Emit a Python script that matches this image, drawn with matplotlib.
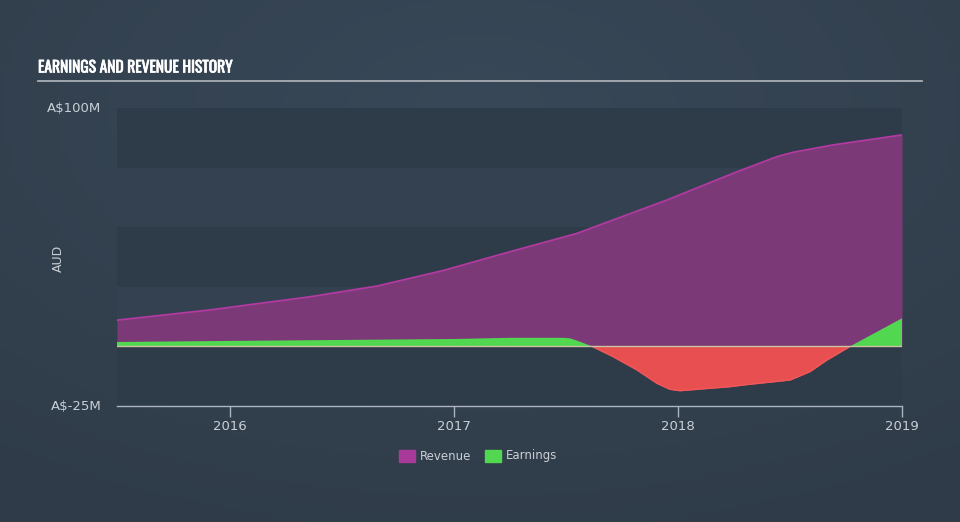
import matplotlib
matplotlib.use("Agg")
import matplotlib.pyplot as plt
import matplotlib.patheffects as pe
import numpy as np
from matplotlib.patches import Rectangle

# ---- data (A$ millions, decimal years) ----
rev_t = [2015.496, 2015.911, 2016.357, 2016.656, 2016.951, 2017.25, 2017.549,
         2017.951, 2018.246, 2018.442, 2018.513, 2018.692, 2019.0]
rev_v = [11.0, 15.3, 20.8, 25.3, 31.8, 39.7, 47.4,
         61.4, 72.6, 79.6, 81.4, 84.5, 88.7]

earn_t = [2015.496, 2016.0, 2017.0, 2017.25, 2017.487, 2017.518, 2017.562, 2017.616,
          2017.71, 2017.817, 2017.906, 2017.964, 2018.009, 2018.098, 2018.232,
          2018.29, 2018.5, 2018.589, 2018.665, 2018.768, 2019.0]
earn_v = [1.85, 2.3, 3.1, 3.6, 3.6, 3.4, 2.0, 0.0,
          -4.3, -9.9, -15.5, -18.0, -18.6, -17.9, -16.9,
          -16.2, -14.1, -10.6, -5.7, 0.0, 11.8]

years = [2016, 2017, 2018, 2019]
y_ticks = [100, -25]
y_labels = ["A$100M", "A$-25M"]

# ---- style ----
BG = "#33404e"
BAND_DARK = "#2e3b49"
BAND_LIGHT = "#334150"
REV_FILL = "#7b3a77"
REV_LINE = "#b23aa0"
GREEN = "#52d850"
RED = "#e84f51"
TXT = "#c9cfd6"

fig = plt.figure(figsize=(9.6, 5.22), dpi=100, facecolor=BG)

# subtle background gradient
bg_ax = fig.add_axes([0, 0, 1, 1], zorder=-10)
gx, gy = np.meshgrid(np.linspace(-1, 1, 200), np.linspace(-1, 1, 120))
r = np.sqrt((gx * 0.9) ** 2 + ((gy + 0.6) * 0.9) ** 2)
c0 = np.array([0x38, 0x48, 0x58]) / 255
c1 = np.array([0x2f, 0x3b, 0x48]) / 255
t = np.clip(r / 1.6, 0, 1)[..., None]
img = c0 * (1 - t) + c1 * t
bg_ax.imshow(img, aspect="auto", extent=[0, 1, 0, 1], origin="upper")
bg_ax.axis("off")

ax = fig.add_axes([117/960, 1-406/522, (902-117)/960, (406-108)/522])
ax.patch.set_alpha(0)

xmin, xmax = 2015.496, 2019.0
ymin, ymax = -25, 100
ax.set_xlim(xmin, xmax)
ax.set_ylim(ymin, ymax)

# bands
for i, lo in enumerate(range(-25, 100, 25)):
    col = BAND_DARK if i % 2 == 0 else BAND_LIGHT
    ax.axhspan(lo, lo + 25, color=col, zorder=0, lw=0)

# revenue
ax.fill_between(rev_t, 0, rev_v, color=REV_FILL, lw=0, zorder=2)
ax.plot(rev_t, rev_v, color=REV_LINE, lw=1.3, zorder=3, solid_joinstyle="round")

# earnings
et = np.array(earn_t)
ev = np.array(earn_v)
ax.fill_between(et, 0, ev, where=ev >= 0, interpolate=True, color=GREEN, lw=0, zorder=4)
ax.fill_between(et, 0, ev, where=ev <= 0, interpolate=True, color=RED, lw=0, zorder=4)
ax.plot(et, np.where(ev <= 0, ev, np.nan), color="#f0585a", lw=1.0, zorder=5,
        solid_joinstyle="round")

ax.axhline(0, color="#c9c3a2", lw=1.0, zorder=6)

# axes styling
for s in ["left", "right", "top"]:
    ax.spines[s].set_visible(False)
ax.spines["bottom"].set_color("#aab4c0")
ax.spines["bottom"].set_linewidth(1.0)
ax.set_xticks(years)
ax.set_xticklabels([str(y) for y in years])
ax.tick_params(axis="x", colors="#aab4c0", length=8, width=1, labelcolor=TXT,
               labelsize=9.5, pad=2)
ax.set_yticks([])

for v, lab in zip(y_ticks, y_labels):
    ax.text(xmin - 0.07, v, lab, ha="right", va="center",
            color=TXT, fontsize=9.5)

fig.text(58/960, 1-258/522, "AUD", rotation=90, ha="center", va="center",
         color=TXT, fontsize=9)

# title
fig.text(38/960, 1-68/522, "EARNINGS AND REVENUE HISTORY", ha="left", va="center",
         color="white", fontsize=11.2, fontweight="bold",
         family=["Oswald", "DejaVu Sans"],
         path_effects=[pe.withStroke(linewidth=0.5, foreground="white")])
fig.add_artist(plt.Line2D([38/960, 922/960], [1-81/522, 1-81/522],
                          color="#a9aeb5", lw=1.3, transform=fig.transFigure))

# legend
fig.patches.append(Rectangle((399/960, 1-462/522), 16/960, 12/522,
                             color="#a93a9a", transform=fig.transFigure))
fig.text(420/960, 1-456/522, "Revenue", ha="left", va="center", color=TXT, fontsize=8.5)
fig.patches.append(Rectangle((485/960, 1-462/522), 16/960, 12/522,
                             color=GREEN, transform=fig.transFigure))
fig.text(506/960, 1-456/522, "Earnings", ha="left", va="center", color=TXT, fontsize=8.5)

fig.savefig("out.png", dpi=100, facecolor=BG)
